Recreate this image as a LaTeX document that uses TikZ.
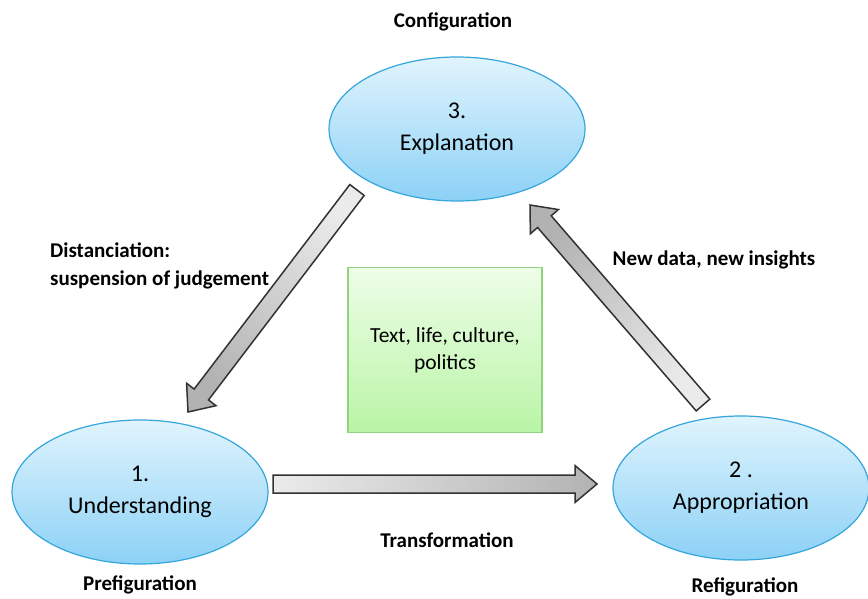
\documentclass[tikz,border=0pt]{standalone}
\usepackage{fontspec}
\setmainfont{Carlito}
\usetikzlibrary{positioning}
\usetikzlibrary{shapes.geometric}
\usetikzlibrary{calc}
\definecolor{mblue}{RGB}{53,165,220}
\definecolor{mbluetop}{RGB}{224,244,253}
\definecolor{mbluebot}{RGB}{140,209,246}
\definecolor{mgreen}{RGB}{146,211,126}
\definecolor{mgreentop}{RGB}{238,253,232}
\definecolor{mgreenbot}{RGB}{185,245,166}
\definecolor{mgrey}{RGB}{50,50,50}
\tikzset{stage/.style = {ellipse, draw=mblue, line width=1.2pt,
                         top color=mbluetop, bottom color=mbluebot,
                         minimum width=256pt, minimum height=144pt, inner sep=0pt,
                         align=center, font=\fontsize{24}{32}\selectfont},
         stagelabel/.style = {font=\bfseries\fontsize{21}{28}\selectfont},
         bigarrow/.style = {draw=mgrey, line width=1.5pt, line join=miter,
                            top color=black!30, bottom color=black!8}}
\newcommand\blockarrow[4]{%
  \coordinate (#1n) at ($(#3)!22pt!(#2)$);
  \draw[bigarrow, shading angle=#4]
    ($(#2)!9pt!90:(#3)$) -- ($(#1n)!9pt!90:(#3)$) -- ($(#1n)!18.5pt!90:(#3)$) -- (#3)
    -- ($(#1n)!18.5pt!-90:(#3)$) -- ($(#1n)!9pt!-90:(#3)$) -- ($(#2)!9pt!-90:(#3)$) -- cycle;}

\begin{document}
\begin{tikzpicture}[x=1pt, y=-1pt]
    \useasboundingbox (0, 0) rectangle (868, 599);

    \node [stage] (expl) at (457, 129) {3.\\Explanation};
    \node [stage] (und) at (140, 492) {1.\\Understanding};
    \node [stage] (appr) at (741, 488) {2 .\\Appropriation};

    \node [draw=mgreen, line width=1.2pt, top color=mgreentop, bottom color=mgreenbot,
           minimum width=194pt, minimum height=165pt, inner sep=0pt, align=center,
           font=\fontsize{21.5}{27}\selectfont] (ctx) at (445, 350) {Text, life, culture,\\politics};

    \coordinate (trans-tail) at (273, 484);
    \coordinate (trans-head) at (597, 484);
    \coordinate (dist-tail) at (357, 190);
    \coordinate (dist-head) at (188, 412);
    \coordinate (new-tail) at (703, 405);
    \coordinate (new-head) at (530, 205);
    \blockarrow{trans}{trans-tail}{trans-head}{-90}
    \blockarrow{dist}{dist-tail}{dist-head}{142.7}
    \blockarrow{new}{new-tail}{new-head}{40.9}

    \node [stagelabel] (conf) at (453, 22) {Configuration};
    \node [stagelabel] (pref) at (140, 585) {Prefiguration};
    \node [stagelabel] (refi) at (745, 587) {Refiguration};
    \node [stagelabel] (tran) at (447, 540) {Transformation};
    \node [stagelabel, anchor=west, align=left, inner sep=0pt] (dist) at (50, 266)
          {Distanciation:\\suspension of judgement};
    \node [stagelabel] (news) at (714, 260) {New data, new insights};
  \end{tikzpicture}
\end{document}
